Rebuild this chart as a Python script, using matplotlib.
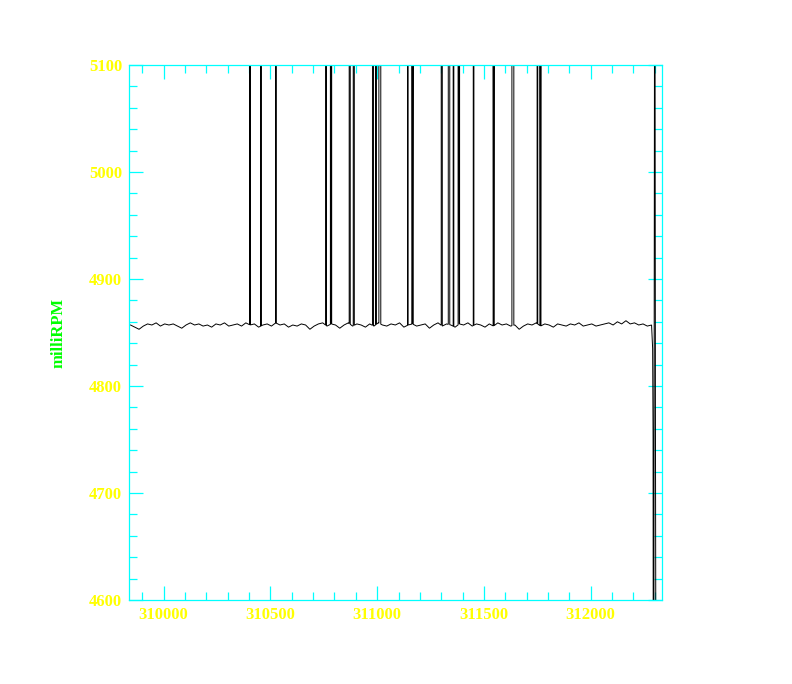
import numpy as np
import matplotlib
matplotlib.use('Agg')
import matplotlib.pyplot as plt
from matplotlib.ticker import MultipleLocator

# baseline readings (every 20 counts), milliRPM
x_start = 309845
x_step = 20
base_vals = [
    4857, 4855, 4853, 4856, 4858, 4857, 4859, 4856, 4858, 4857,
    4858, 4856, 4854, 4857, 4859, 4857, 4858, 4856, 4857, 4855,
    4858, 4857, 4859, 4856, 4857, 4858, 4856, 4859, 4857, 4858,
    4855, 4857, 4858, 4856, 4859, 4857, 4858, 4855, 4857, 4856,
    4858, 4857, 4853, 4856, 4858, 4859, 4856, 4858, 4857, 4854,
    4857, 4859, 4856, 4858, 4857, 4855, 4858, 4856, 4859, 4857,
    4856, 4858, 4857, 4859, 4855, 4857, 4858, 4856, 4857, 4858,
    4854, 4857, 4859, 4856, 4858, 4857, 4855, 4858, 4857, 4859,
    4856, 4858, 4857, 4855, 4858, 4856, 4859, 4857, 4858, 4856,
    4857, 4853, 4856, 4858, 4857, 4859, 4856, 4858, 4857, 4855,
    4858, 4857, 4856, 4858, 4857, 4859, 4856, 4857, 4858, 4856,
    4857, 4858, 4859, 4857, 4860, 4858, 4861, 4858, 4859, 4857,
    4858, 4856, 4857,
]

# off-scale spikes: (start, end) in counts
spikes = [(310403, 310406), (310455, 310457), (310525, 310527),
          (310759, 310762), (310781, 310787), (310869, 310874),
          (310888, 310893), (310978, 310983), (310993, 310996),
          (311008, 311017), (311142, 311145), (311163, 311169),
          (311300, 311305), (311333, 311340), (311356, 311359),
          (311379, 311386), (311450, 311453), (311543, 311548),
          (311631, 311640), (311749, 311752), (311762, 311767)]
spike_top = 5400

# end of record
tail_x = [312290, 312292, 312294, 312300, 312303, 312308]
tail_y = [4835, 4752, 4200, 5400, 4785, 4200]

bx = x_start + x_step * np.arange(len(base_vals))
by = np.array(base_vals, dtype=float)

xs = list(bx)
ys = list(by)
for s, e in spikes:
    bs = np.interp(s, bx, by)
    be = np.interp(e, bx, by)
    xs += [s, s + 0.01, e - 0.01, e]
    ys += [bs, spike_top, spike_top, be]
order = np.argsort(xs, kind='stable')
xs = list(np.array(xs)[order]) + tail_x
ys = list(np.array(ys)[order]) + tail_y

fig = plt.figure(figsize=(7.92, 6.84), dpi=100)
ax = fig.add_axes([0.1629, 0.1228, 0.673, 0.7822])
ax.plot(xs, ys, color='black', lw=0.7, solid_joinstyle='miter')

ax.set_xlim(309838, 312334)
ax.set_ylim(4600, 5100)
ax.xaxis.set_major_locator(MultipleLocator(500))
ax.xaxis.set_minor_locator(MultipleLocator(100))
ax.yaxis.set_major_locator(MultipleLocator(100))
ax.yaxis.set_minor_locator(MultipleLocator(20))

cyan = '#00ffff'
for sp in ax.spines.values():
    sp.set_color(cyan)
    sp.set_linewidth(0.9)
ax.tick_params(which='both', direction='in', top=True, right=True,
               color=cyan, width=0.9, labelcolor='#ffff00')
ax.tick_params(which='major', length=10, pad=5)
ax.tick_params(which='minor', length=5.5)
for lab in ax.get_xticklabels() + ax.get_yticklabels():
    lab.set_family('Liberation Serif')
    lab.set_fontweight('bold')
    lab.set_fontsize(12)

ax.set_ylabel('milliRPM', color='#00ff00', fontsize=12, fontweight='bold',
              family='Liberation Serif', labelpad=16)

plt.savefig('out.png', dpi=100)
